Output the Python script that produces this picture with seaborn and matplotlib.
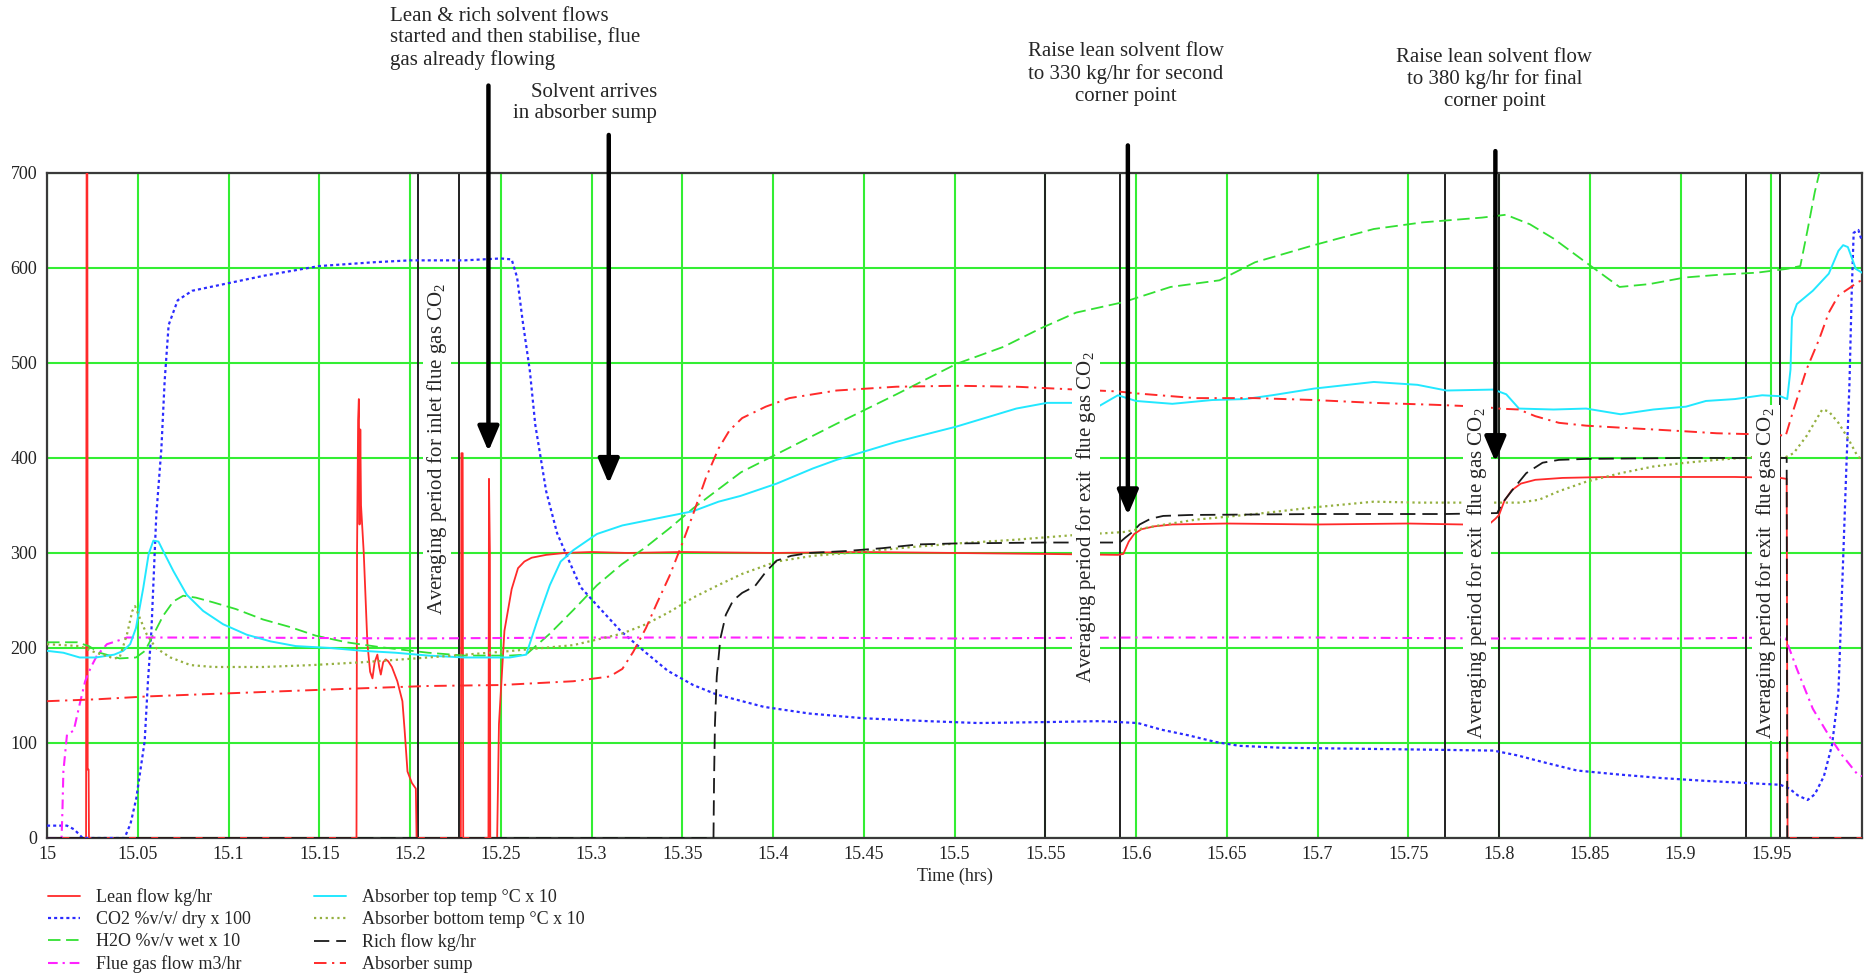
import matplotlib
matplotlib.use("Agg")
import matplotlib.pyplot as plt
import seaborn as sns

# ---------------- data ----------------
lean_t = [15.000, 15.0215, 15.0218, 15.0222, 15.0224, 15.0229, 15.0231, 15.1705, 15.1708, 15.1714,
          15.1718, 15.1722, 15.1726, 15.1730, 15.1745, 15.1765, 15.1780, 15.1793, 15.1805, 15.1820,
          15.1830, 15.1839, 15.1852, 15.1866, 15.1880, 15.1900, 15.1930, 15.1958, 15.1970, 15.1986,
          15.2010, 15.2032, 15.2036, 15.2280, 15.2283, 15.2290, 15.2293, 15.2432, 15.2435, 15.2440,
          15.2442, 15.2480, 15.2490, 15.2520, 15.2560, 15.2595, 15.2630, 15.2670, 15.2750, 15.2850,
          15.3000, 15.3200, 15.3500, 15.4000, 15.4500, 15.5000, 15.5500, 15.5900, 15.5930, 15.5960,
          15.5990, 15.6030, 15.6100, 15.6200, 15.6500, 15.7000, 15.7500, 15.7800, 15.7950, 15.7980,
          15.8000, 15.8030, 15.8070, 15.8120, 15.8200, 15.8350, 15.8600, 15.9000, 15.9300, 15.9550,
          15.9585, 15.9590, 16.0000]
lean_v = [0, 0, 705, 705, 72, 72, 0, 0, 300, 440,
          462, 330, 430, 350, 300, 205, 175, 168, 185, 193,
          180, 172, 185, 188, 186, 180, 165, 144, 114, 70,
          58, 52, 0, 0, 405, 405, 0, 0, 378, 300,
          0, 0, 120, 218, 262, 284, 291, 295, 298, 300,
          301, 300, 301, 300, 301, 300, 299, 298, 299, 312,
          320, 325, 328, 330, 331, 330, 331, 330, 331, 336,
          340, 355, 366, 373, 377, 379, 380, 380, 380, 379,
          378, 0, 0]

co2_t = [15.000, 15.0110, 15.0150, 15.0196, 15.0427, 15.0460, 15.0492, 15.0538, 15.0556, 15.0575,
         15.0602, 15.0630, 15.0648, 15.0670, 15.0720, 15.0800, 15.1000, 15.1200, 15.1500, 15.1800,
         15.2000, 15.2300, 15.2500, 15.2560, 15.2590, 15.2620, 15.2660, 15.2690, 15.2750, 15.2810,
         15.2880, 15.2940, 15.3030, 15.3160, 15.3300, 15.3420, 15.3560, 15.3690, 15.3950, 15.4200,
         15.4500, 15.4850, 15.5130, 15.5500, 15.5800, 15.6010, 15.6140, 15.6290, 15.6440, 15.6570,
         15.6800, 15.7200, 15.7600, 15.7970, 15.8100, 15.8240, 15.8430, 15.8650, 15.8900, 15.9150,
         15.9350, 15.9550, 15.9600, 15.9645, 15.9700, 15.9740, 15.9790, 15.9835, 15.9870, 15.9896,
         15.9913, 15.9931, 15.9943, 15.9954, 15.9980, 16.0000]
co2_v = [13, 13, 9, 0, 0, 15, 42, 102, 165, 218,
         340, 410, 481, 540, 566, 576, 584, 592, 602, 606,
         608, 608, 610, 609, 590, 545, 492, 435, 365, 321,
         290, 264, 245, 218, 195, 176, 161, 151, 138, 131,
         126, 123, 121, 122, 123, 121, 114, 108, 101, 97,
         95, 94, 93, 92, 87, 80, 71, 67, 63, 60,
         58, 56, 52, 45, 40, 46, 65, 98, 153, 293,
         386, 479, 572, 637, 640, 628]

h2o_t = [15.000, 15.0165, 15.0230, 15.0290, 15.0400, 15.0490, 15.0540, 15.0586, 15.0640, 15.0696,
         15.0750, 15.0820, 15.0916, 15.1040, 15.1190, 15.1340, 15.1480, 15.1650, 15.1830, 15.2100,
         15.2300, 15.2550, 15.2639, 15.2770, 15.2900, 15.3030, 15.3166, 15.3298, 15.3430, 15.3560,
         15.3824, 15.4020, 15.4350, 15.4680, 15.5010, 15.5270, 15.5470, 15.5670, 15.5930, 15.6190,
         15.6460, 15.6656, 15.6980, 15.7310, 15.7580, 15.7906, 15.8038, 15.8170, 15.8300, 15.8499,
         15.8664, 15.8828, 15.9026, 15.9224, 15.9420, 15.9585, 15.9660, 15.9700, 15.9740, 15.9780]
h2o_v = [206, 206, 202, 195, 189, 190, 197, 214, 234, 249,
         255, 253, 248, 241, 230, 222, 213, 206, 201, 195,
         192, 192, 193, 215, 240, 266, 288, 306, 326, 347,
         385, 404, 436, 467, 499, 517, 536, 553, 564, 580,
         587, 606, 624, 641, 648, 653, 656, 646, 631, 603,
         580, 583, 590, 593, 595, 599, 602, 640, 680, 712]

flue_t = [15.000, 15.0080, 15.0085, 15.0090, 15.0110, 15.0147, 15.0180, 15.0210, 15.0240, 15.0275,
          15.0330, 15.0380, 15.0440, 15.1000, 15.2000, 15.3000, 15.4000, 15.5000, 15.6000, 15.7000,
          15.8000, 15.9000, 15.9550, 15.9579, 15.9641, 15.9729, 15.9817, 15.9887, 15.9975, 16.0000]
flue_v = [0, 0, 30, 70, 109, 113, 141, 165, 179, 192,
          204, 207, 211, 211, 210, 211, 211, 210, 211, 211,
          210, 210, 211, 210, 178, 136, 108, 88, 67, 65]

top_t = [15.000, 15.0090, 15.0180, 15.0270, 15.0370, 15.0420, 15.0458, 15.0490, 15.0530, 15.0560,
         15.0586, 15.0614, 15.0640, 15.0696, 15.0770, 15.0860, 15.0970, 15.1100, 15.1230, 15.1370,
         15.1560, 15.1740, 15.1920, 15.2100, 15.2300, 15.2550, 15.2640, 15.2700, 15.2770, 15.2830,
         15.2900, 15.3030, 15.3170, 15.3300, 15.3430, 15.3560, 15.3700, 15.3820, 15.4020, 15.4220,
         15.4350, 15.4680, 15.5010, 15.5340, 15.5510, 15.5670, 15.5800, 15.5900, 15.6000, 15.6200,
         15.6420, 15.6600, 15.6750, 15.6980, 15.7310, 15.7550, 15.7710, 15.7970, 15.8040, 15.8110,
         15.8300, 15.8480, 15.8670, 15.8850, 15.9030, 15.9140, 15.9300, 15.9450, 15.9550, 15.9588,
         15.9606, 15.9614, 15.9641, 15.9729, 15.9817, 15.9870, 15.9896, 15.9922, 15.9949, 15.9966,
         16.0000]
top_v = [197, 195, 190, 190, 193, 197, 204, 221, 263, 299,
         313, 312, 302, 281, 256, 239, 225, 214, 207, 202,
         200, 197, 195, 192, 190, 190, 193, 228, 266, 291,
         303, 320, 329, 334, 339, 344, 354, 360, 373, 389,
         398, 417, 433, 452, 458, 458, 455, 466, 460, 457,
         461, 462, 466, 473, 480, 477, 471, 472, 467, 452,
         451, 452, 446, 451, 454, 460, 462, 466, 465, 462,
         493, 548, 562, 576, 594, 618, 624, 622, 608, 599,
         595]

bottom_t = [15.000, 15.0180, 15.0270, 15.0370, 15.0400, 15.0440, 15.0470, 15.0485, 15.0510, 15.0550,
            15.0600, 15.0680, 15.0790, 15.0916, 15.1190, 15.1460, 15.1740, 15.2100, 15.2506, 15.2900,
            15.3166, 15.3300, 15.3430, 15.3560, 15.3697, 15.3830, 15.4020, 15.4220, 15.4480, 15.4750,
            15.5010, 15.5340, 15.5670, 15.5930, 15.6127, 15.6326, 15.6656, 15.6980, 15.7310, 15.7560,
            15.7930, 15.8110, 15.8220, 15.8330, 15.8480, 15.8670, 15.8850, 15.9030, 15.9200, 15.9400,
            15.9570, 15.9623, 15.9694, 15.9781, 15.9817, 15.9870, 15.9922, 15.9975, 16.0000]
bottom_v = [204, 202, 195, 189, 190, 214, 239, 244, 232, 214,
            200, 190, 182, 180, 180, 182, 185, 190, 196, 203,
            215, 225, 238, 253, 266, 278, 291, 297, 301, 306,
            310, 314, 319, 322, 329, 335, 341, 348, 354, 353,
            353, 353, 356, 365, 375, 384, 391, 395, 398, 401,
            400, 405, 423, 451, 449, 437, 421, 402, 398]

rich_t = [15.000, 15.3672, 15.3675, 15.3680, 15.3690, 15.3710, 15.3740, 15.3780, 15.3830, 15.3900,
          15.3960, 15.4020, 15.4100, 15.4200, 15.4400, 15.4600, 15.4800, 15.5000, 15.5500, 15.5910,
          15.5940, 15.5980, 15.6020, 15.6080, 15.6150, 15.6300, 15.7000, 15.7700, 15.7990, 15.8020,
          15.8077, 15.8150, 15.8240, 15.8330, 15.8480, 15.9000, 15.9550, 15.9585, 15.9588, 16.0000]
rich_v = [0, 0, 60, 120, 170, 210, 235, 250, 258, 265,
          280, 292, 297, 300, 302, 305, 309, 310, 311, 311,
          316, 322, 330, 336, 339, 340, 341, 341, 342, 353,
          367, 384, 395, 398, 399, 400, 400, 400, 0, 0]

sump_t = [15.000, 15.0275, 15.0550, 15.0820, 15.1100, 15.1370, 15.1650, 15.2100, 15.2500, 15.2900,
          15.3100, 15.3170, 15.3230, 15.3300, 15.3360, 15.3430, 15.3500, 15.3560, 15.3630, 15.3700,
          15.3760, 15.3830, 15.3960, 15.4090, 15.4350, 15.4680, 15.5010, 15.5340, 15.5670, 15.5900,
          15.6000, 15.6326, 15.6656, 15.6980, 15.7310, 15.7640, 15.7900, 15.8000, 15.8110, 15.8200,
          15.8330, 15.8480, 15.8660, 15.8850, 15.9030, 15.9200, 15.9400, 15.9550, 15.9579, 15.9623,
          15.9694, 15.9764, 15.9817, 15.9870, 15.9940, 15.9975, 16.0000]
sump_v = [144, 146, 149, 151, 153, 155, 157, 160, 161, 165,
          170, 178, 196, 221, 247, 276, 310, 341, 379, 410,
          429, 442, 454, 463, 471, 475, 476, 475, 472, 470,
          468, 463, 463, 461, 458, 456, 454, 452, 451, 444,
          437, 434, 432, 430, 428, 426, 425, 424, 423, 451,
          493, 525, 553, 571, 580, 585, 587]

series_labels = ["Lean flow kg/hr", "CO2 %v/v/ dry x 100", "H2O %v/v wet x 10", "Flue gas flow m3/hr",
                 "Absorber top temp \u00b0C x 10", "Absorber bottom temp \u00b0C x 10",
                 "Rich flow kg/hr", "Absorber sump"]

x_ticks = [15.0, 15.05, 15.1, 15.15, 15.2, 15.25, 15.3, 15.35, 15.4, 15.45,
           15.5, 15.55, 15.6, 15.65, 15.7, 15.75, 15.8, 15.85, 15.9, 15.95]
x_tick_labels = ["15", "15.05", "15.1", "15.15", "15.2", "15.25", "15.3", "15.35", "15.4", "15.45",
                 "15.5", "15.55", "15.6", "15.65", "15.7", "15.75", "15.8", "15.85", "15.9", "15.95"]
y_ticks = [0, 100, 200, 300, 400, 500, 600, 700]

avg_bounds = [15.2046, 15.227, 15.55, 15.591, 15.770, 15.80, 15.936, 15.955]
avg_labels = ["Averaging period for inlet flue gas CO$_2$",
              "Averaging period for exit  flue gas CO$_2$",
              "Averaging period for exit  flue gas CO$_2$",
              "Averaging period for exit  flue gas CO$_2$"]
avg_label_t = [15.2150, 15.5725, 15.7880, 15.9470]
avg_label_v = [410, 338, 279, 279]

notes = ["Lean & rich solvent flows\nstarted and then stabilise, flue\ngas already flowing",
         "Solvent arrives\nin absorber sump",
         "Raise lean solvent flow\nto 330 kg/hr for second\ncorner point",
         "Raise lean solvent flow\nto 380 kg/hr for final\ncorner point"]
note_t = [15.1890, 15.3362, 15.5945, 15.7975]
note_v = [875, 795, 838, 832]
arrow_t = [15.2432, 15.3095, 15.5955, 15.7980]
arrow_from = [792, 740, 729, 723]
arrow_to = [407, 373, 340, 396]

# ---------------- styling ----------------
sns.set_theme(style="white")
plt.rcParams["font.family"] = ["Liberation Serif", "DejaVu Serif"]
plt.rcParams["mathtext.fontset"] = "custom"
plt.rcParams["mathtext.rm"] = "Liberation Serif"
plt.rcParams["mathtext.it"] = "Liberation Serif:italic"
plt.rcParams["lines.scale_dashes"] = False

RED = "#ff2a2a"
styles = [
    dict(color=RED, linestyle="-", linewidth=1.3),
    dict(color="#2b2bff", linestyle=(0, (2.2, 2.2)), linewidth=1.6),
    dict(color="#33e033", linestyle=(0, (9, 4)), linewidth=1.3),
    dict(color="#ff22ff", linestyle=(0, (7, 3.5, 1.6, 3.5)), linewidth=1.5),
    dict(color="#22e8ff", linestyle="-", linewidth=1.4),
    dict(color="#95b040", linestyle=(0, (1.6, 2.6)), linewidth=1.6),
    dict(color="#1a1a1a", linestyle=(0, (11, 5)), linewidth=1.3),
    dict(color=RED, linestyle=(0, (9, 4, 1.6, 4)), linewidth=1.4),
]
all_t = [lean_t, co2_t, h2o_t, flue_t, top_t, bottom_t, rich_t, sump_t]
all_v = [lean_v, co2_v, h2o_v, flue_v, top_v, bottom_v, rich_v, sump_v]

fig = plt.figure(figsize=(18.74, 9.76), dpi=100)
ax = fig.add_axes([0.0251, 0.1414, 0.9685, 0.6814])

for t, v, lab, st in zip(all_t, all_v, series_labels, styles):
    sns.lineplot(x=t, y=v, ax=ax, label=lab, estimator=None, sort=False, zorder=3, **st)

ax.set_xlim(15.0, 16.0)
ax.set_ylim(0, 700)
ax.set_xticks(x_ticks)
ax.set_xticklabels(x_tick_labels)
ax.set_yticks(y_ticks)
ax.set_axisbelow(True)
ax.grid(True, color="#33ee33", linewidth=1.5)
ax.tick_params(axis="both", length=0, labelsize=13, colors="#222222")
ax.tick_params(axis="x", pad=6)
ax.tick_params(axis="y", pad=7)
ax.set_xlabel("Time (hrs)", fontsize=13, labelpad=3)
ax.set_ylabel("")
for sp in ax.spines.values():
    sp.set_color("#3a3a3a")
    sp.set_linewidth(1.6)

for xb in avg_bounds:
    ax.axvline(xb, color="#202020", linewidth=1.4, zorder=2.5)

for s, xt, yv in zip(avg_labels, avg_label_t, avg_label_v):
    ax.text(xt, yv, s, rotation=90, ha="center", va="center", fontsize=15, zorder=6,
            bbox=dict(facecolor="white", edgecolor="none", pad=1.5))

ax.text(note_t[0], note_v[0], notes[0], ha="left", va="top", fontsize=15, linespacing=1.2,
        clip_on=False, zorder=7)
ax.text(note_t[1], note_v[1], notes[1], ha="right", va="top", fontsize=15, linespacing=1.2,
        multialignment="right", clip_on=False, zorder=7)
ax.text(note_t[2], note_v[2], notes[2], ha="center", va="top", fontsize=15, linespacing=1.2,
        multialignment="center", clip_on=False, zorder=7)
ax.text(note_t[3], note_v[3], notes[3], ha="center", va="top", fontsize=15, linespacing=1.2,
        multialignment="center", clip_on=False, zorder=7)

for xa, y0, y1 in zip(arrow_t, arrow_from, arrow_to):
    ax.annotate("", xy=(xa, y1), xytext=(xa, y0), xycoords="data", textcoords="data",
                annotation_clip=False, zorder=8,
                arrowprops=dict(arrowstyle="-|>,head_length=0.75,head_width=0.32",
                                mutation_scale=20, lw=3.2, color="black",
                                shrinkA=0, shrinkB=0))

handles, labels = ax.get_legend_handles_labels()
if ax.get_legend() is not None:
    ax.get_legend().remove()
fig.legend(handles, labels, loc="upper left", bbox_to_anchor=(0.0256, 0.090), ncol=2,
           frameon=False, fontsize=13, handlelength=1.8, handletextpad=0.85,
           columnspacing=3.5, labelspacing=0.28, borderpad=0, borderaxespad=0)

fig.savefig("out.png", dpi=100)
